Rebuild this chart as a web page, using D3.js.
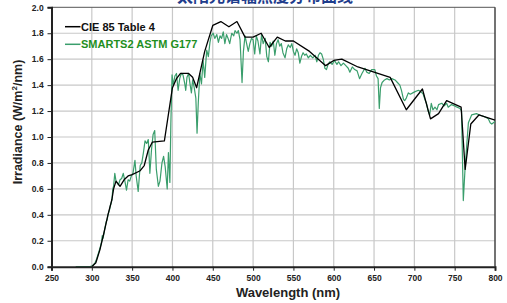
<!DOCTYPE html>
<html><head><meta charset="utf-8">
<script src="https://cdn.jsdelivr.net/npm/d3@7"></script>
<style>
html,body{margin:0;padding:0;background:#fff;}
svg{display:block;font-family:Arial,"Liberation Sans",sans-serif;}
</style></head>
<body><div id="chart"></div>
<script>
const title = "太阳光谱辐照度分布曲线";
const xTicks = [250,300,350,400,450,500,550,600,650,700,750,800];
const yTicks = [0,0.2,0.4,0.6,0.8,1.0,1.2,1.4,1.6,1.8,2.0];
const seriesNames = ["CIE 85 Table 4","SMARTS2 ASTM G177"];

const cieWl  = [300,305,310,315,320,325,327,330,335,340,345,350,360,365,370,375,390,400,405,410,420,425,430,440,450,460,470,480,490,500,510,520,530,540,550,570,590,600,610,630,650,670,690,710,720,730,740,758,763,770,780,800];
const cieIrr = [0,0.03,0.13,0.26,0.40,0.52,0.60,0.66,0.62,0.67,0.70,0.71,0.74,0.78,0.90,0.96,0.97,1.38,1.45,1.49,1.49,1.46,1.38,1.66,1.86,1.89,1.85,1.89,1.77,1.77,1.80,1.69,1.77,1.74,1.74,1.66,1.55,1.59,1.60,1.54,1.50,1.46,1.21,1.37,1.14,1.18,1.28,1.23,0.75,1.10,1.17,1.13];

const smWl  = [280,290,295,298,300,302,304,306,308,310,312,313,314,316,318,319,320,322,323,324,325,326,327,328.5,330,331,333,335,337,339,341,343,345,347,349,351,353.5,355,357.5,360,362,364,366,368,370,371,372,374,376,378,380,382.5,384.5,387,389,391,393.5,395,396.8,398,399.5,401,403,405,407,409,411,413,415,416.5,418,420,422,423.5,425,427,429,430.5,432,434,436,438,440,442.5,444.5,446.5,448,450.5,452.5,455,457,459,461,463,465,467,469,471,473.5,476,477.6,480,481.7,483.8,486.3,488,490,492,494,496,498,500,502,504,506,508.5,510.5,512.5,515,517,519,521,523,525,527,529,531,533,535,537,539.6,541.7,543.6,546,548,550,552,554,556,558,560,562,564,566,568.5,571,574,577,579,581,583,585,587,589,591,593,595,598,601,604,606,609,612,615,618,620,623,626,629,632,635,638.7,641,644,647,651,653,655,656.5,658,660,663,666,669,672,676,679,682,684,686.5,688,690,692.5,695,698,701,705,708,711,713,715,717,719,721,723,725.6,728,730,734,737,740,742,746,750,753,756.6,758.5,760.7,762.8,765,767,771,777,781,785.5,789,791.7,794,796,798,800];
const smIrr = [0,0,0,0.002,0.005,0.015,0.03,0.06,0.10,0.14,0.19,0.24,0.22,0.29,0.35,0.36,0.40,0.44,0.47,0.49,0.52,0.60,0.62,0.72,0.66,0.65,0.63,0.67,0.68,0.72,0.66,0.59,0.67,0.66,0.70,0.72,0.82,0.70,0.58,0.78,0.80,0.88,0.97,0.95,0.98,0.86,0.72,0.90,1.02,1.05,0.75,0.62,0.66,0.80,0.85,0.77,0.60,0.88,0.65,1.10,1.48,1.40,1.47,1.49,1.36,1.45,1.49,1.48,1.42,1.36,1.46,1.49,1.40,1.34,1.44,1.38,1.30,1.03,1.26,1.49,1.41,1.59,1.46,1.67,1.62,1.73,1.78,1.80,1.76,1.79,1.73,1.78,1.76,1.81,1.72,1.79,1.76,1.72,1.80,1.78,1.82,1.80,1.82,1.75,1.42,1.66,1.78,1.72,1.66,1.72,1.76,1.75,1.64,1.78,1.74,1.64,1.79,1.72,1.76,1.62,1.58,1.73,1.70,1.74,1.63,1.72,1.75,1.70,1.72,1.65,1.61,1.68,1.71,1.69,1.72,1.66,1.63,1.68,1.65,1.57,1.62,1.65,1.63,1.64,1.61,1.63,1.61,1.63,1.58,1.63,1.65,1.64,1.60,1.53,1.52,1.56,1.58,1.56,1.59,1.56,1.58,1.55,1.57,1.55,1.53,1.50,1.54,1.52,1.51,1.45,1.49,1.53,1.50,1.49,1.52,1.52,1.47,1.45,1.22,1.38,1.42,1.44,1.45,1.44,1.45,1.44,1.42,1.40,1.36,1.29,1.28,1.30,1.34,1.33,1.34,1.35,1.36,1.35,1.33,1.29,1.26,1.20,1.17,1.26,1.21,1.23,1.21,1.25,1.26,1.24,1.26,1.23,1.25,1.24,1.23,1.22,1.20,0.51,0.75,0.94,1.11,1.17,1.18,1.17,1.16,1.15,1.14,1.11,1.10,1.11,1.12];

const W = 507, H = 303;
const L = 51.5, R = 495, T = 7.3, B = 266.7;
const svg = d3.select("#chart").append("svg").attr("width", W).attr("height", H);

const x = d3.scaleLinear().domain([250, 800]).range([L, R]);
const y = d3.scaleLinear().domain([0, 2]).range([B, T]);

// title (cut off at top, as in the reference)
svg.append("text").attr("x", 265).attr("y", 1.5).attr("text-anchor", "middle")
  .attr("font-family", "'Noto Sans CJK SC', sans-serif").attr("font-weight", "bold")
  .attr("font-size", 16).attr("fill", "#1f3d8c").text(title);

// gridlines
svg.append("g").selectAll("line.v").data(xTicks.slice(1, -1)).join("line")
  .attr("x1", d => x(d)).attr("x2", d => x(d)).attr("y1", T).attr("y2", B)
  .attr("stroke", "#c8c8c8").attr("stroke-width", 1.2);
svg.append("g").selectAll("line.h").data(yTicks.slice(1, -1)).join("line")
  .attr("y1", d => y(d)).attr("y2", d => y(d)).attr("x1", L).attr("x2", R)
  .attr("stroke", "#c8c8c8").attr("stroke-width", 1.2);

// frame top/right
svg.append("line").attr("x1", L).attr("x2", R).attr("y1", T).attr("y2", T).attr("stroke", "#555").attr("stroke-width", 1);
svg.append("line").attr("x1", R).attr("x2", R).attr("y1", T).attr("y2", B).attr("stroke", "#444").attr("stroke-width", 1.5);

// series
const line = d3.line().x(d => x(d[0])).y(d => y(d[1]));
const sm = smWl.map((w, i) => [w, smIrr[i]]);
const cie = cieWl.map((w, i) => [w, cieIrr[i]]);
svg.append("path").datum(sm).attr("d", line).attr("fill", "none")
  .attr("stroke", "#3a9e6c").attr("stroke-width", 1.2).attr("stroke-linejoin", "round");
svg.append("path").datum(cie).attr("d", line).attr("fill", "none")
  .attr("stroke", "#000").attr("stroke-width", 1.3).attr("stroke-linejoin", "round");

// axes
const xAxis = d3.axisBottom(x).tickValues(xTicks).tickSize(4).tickFormat(d3.format("d"));
const yAxis = d3.axisLeft(y).tickValues(yTicks).tickSize(4).tickFormat(d3.format(".1f"));
const gx = svg.append("g").attr("transform", `translate(0,${B})`).call(xAxis);
const gy = svg.append("g").attr("transform", `translate(${L},0)`).call(yAxis);
[gx, gy].forEach(g => {
  g.select(".domain").attr("stroke", "#222").attr("stroke-width", 2);
  g.selectAll(".tick line").attr("stroke", "#222").attr("stroke-width", 1);
  g.selectAll(".tick text").attr("font-family", "Arial, 'Liberation Sans', sans-serif")
    .attr("font-weight", "bold").attr("font-size", 8.5).attr("fill", "#222");
});
gx.selectAll(".tick text").attr("dy", "0.9em");
gy.selectAll(".tick text").attr("dx", "-0.1em");

// axis titles
svg.append("text").attr("x", 288).attr("y", 297).attr("text-anchor", "middle")
  .attr("font-weight", "bold").attr("font-size", 13).attr("fill", "#222").text("Wavelength (nm)");
const yt = svg.append("text").attr("transform", "translate(22,122) rotate(-90)")
  .attr("text-anchor", "middle").attr("font-weight", "bold").attr("font-size", 12.5).attr("fill", "#222");
yt.append("tspan").text("Irradiance (W/m");
yt.append("tspan").attr("font-size", 8).attr("dy", -5).text("2");
yt.append("tspan").attr("dy", 5).text("/nm)");

// legend
const legColors = ["#000", "#3a9e6c"];
const legText = ["#111", "#1f8f1f"];
const leg = svg.append("g");
seriesNames.forEach((n, i) => {
  const yy = 26.7 + i * 17.6;
  leg.append("line").attr("x1", 65).attr("x2", 80.5).attr("y1", yy).attr("y2", yy)
    .attr("stroke", legColors[i]).attr("stroke-width", 1.5);
  leg.append("text").attr("x", 81).attr("y", yy + 4).attr("font-weight", "bold")
    .attr("font-size", 11).attr("fill", legText[i]).text(n);
});
</script></body></html>
